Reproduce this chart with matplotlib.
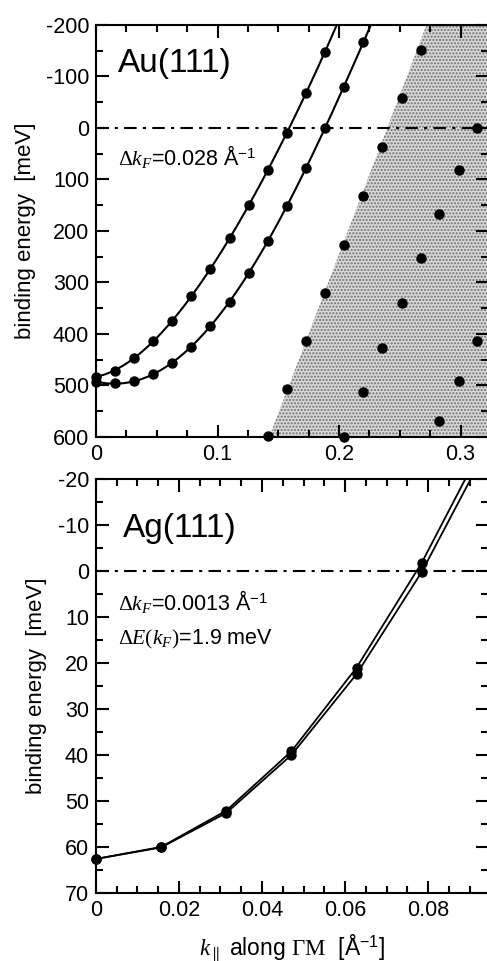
import numpy as np
import matplotlib
matplotlib.use("Agg")
import matplotlib.pyplot as plt
from matplotlib.ticker import MultipleLocator, FormatStrFormatter

plt.rcParams['font.family'] = ['Liberation Sans', 'DejaVu Sans']
plt.rcParams['mathtext.fontset'] = 'custom'
plt.rcParams['mathtext.rm'] = 'Liberation Serif'
plt.rcParams['mathtext.it'] = 'Liberation Serif:italic'
plt.rcParams['mathtext.sf'] = 'Liberation Sans'
plt.rcParams['hatch.color'] = '#6e6e6e'
plt.rcParams['hatch.linewidth'] = 1.0

# Au(111): two spin-split branches, k in 1/A, binding energy in meV
k_au = np.arange(15) * 0.0157
E_au_a = [483, 471, 446, 414, 374, 327, 274, 214, 150, 82, 10, -67, -148]
E_au_b = [493, 496, 491, 478, 456, 425, 385, 337, 282, 219, 152, 78, 1, -80, -166]

# bulk band points in the projected continuum
bulk_k = [0.1413, 0.157, 0.1726, 0.1885, 0.2044, 0.2044, 0.22, 0.22, 0.2357, 0.2357,
          0.2515, 0.2515, 0.2672, 0.2672, 0.2825, 0.2825, 0.2985, 0.2985, 0.3139, 0.3139]
bulk_E = [598, 507, 414, 320, 227, 600, 132, 513, 36, 427,
          -58, 340, -152, 253, 167, 569, 82, 491, 0, 414]

# edge of the shaded bulk continuum
edge_k = [0.272, 0.1426]
edge_E = [-200, 600]

# Ag(111)
k_ag = [0, 0.0157, 0.0314, 0.0471, 0.0628, 0.0785]
E_ag_a = [62.6, 60.0, 52.1, 39.2, 21.0, -1.8]
E_ag_b = [62.6, 60.1, 52.6, 40.0, 22.4, 0.2]
# where the lines leave the top of the frame
end_ag_a = (0.0890, -20)
end_ag_b = (0.0903, -20)

fig = plt.figure(figsize=(4.87, 9.61), dpi=100)
ax1 = fig.add_axes([0.1971, 0.5453, 0.805, 0.4287])
ax2 = fig.add_axes([0.1971, 0.0708, 0.805, 0.4308])

ms = 6.5
lw = 1.5

# --- top panel
xmax1 = 0.3226
ax1.fill_betweenx(edge_E, edge_k, xmax1, facecolor='#d8d8d8', hatch='.....',
                  edgecolor='#6e6e6e', linewidth=0, zorder=0)
kk = np.linspace(0, 0.25, 400)
for E in (E_au_a, E_au_b):
    kx = k_au[:len(E)]
    p = np.polyfit(kx, E, 4)
    ax1.plot(kk, np.polyval(p, kk), color='black', lw=lw, zorder=2)
    ax1.plot(kx, E, 'o', color='black', ms=ms, clip_on=False, zorder=3)
ax1.plot(bulk_k, bulk_E, 'o', color='black', ms=ms, clip_on=False, zorder=3)
ax1.axhline(0, color='black', lw=lw, ls=(0, (6, 3, 1.5, 3)), zorder=1)
ax1.set_xlim(0, xmax1)
ax1.set_ylim(600, -200)
ax1.xaxis.set_major_locator(MultipleLocator(0.1))
ax1.xaxis.set_minor_locator(MultipleLocator(0.025))
ax1.yaxis.set_major_locator(MultipleLocator(100))
ax1.yaxis.set_minor_locator(MultipleLocator(50))
ax1.xaxis.set_major_formatter(FormatStrFormatter('%g'))
ax1.yaxis.set_major_formatter(FormatStrFormatter('%g'))
ax1.set_ylabel('binding energy  [meV]', fontsize=16, labelpad=7)
ax1.text(0.056, 0.886, 'Au(111)', transform=ax1.transAxes, fontsize=24)
ax1.text(0.056, 0.66, r'$\Delta k_F$=0.028 Å$^{\mathsf{-1}}$', transform=ax1.transAxes,
         fontsize=15.5)

# --- bottom panel
ax2.plot(list(k_ag) + [end_ag_a[0]], E_ag_a + [end_ag_a[1]], color='black', lw=1.3, zorder=2)
ax2.plot(list(k_ag) + [end_ag_b[0]], E_ag_b + [end_ag_b[1]], color='black', lw=1.3, zorder=2)
ax2.plot(k_ag, E_ag_a, 'o', color='black', ms=ms, clip_on=False, zorder=3)
ax2.plot(k_ag, E_ag_b, 'o', color='black', ms=ms, clip_on=False, zorder=3)
ax2.axhline(0, color='black', lw=lw, ls=(0, (6, 3, 1.5, 3)), zorder=1)
ax2.set_xlim(0, 0.09446)
ax2.set_ylim(70, -20)
ax2.xaxis.set_major_locator(MultipleLocator(0.02))
ax2.xaxis.set_minor_locator(MultipleLocator(0.005))
ax2.yaxis.set_major_locator(MultipleLocator(10))
ax2.yaxis.set_minor_locator(MultipleLocator(5))
ax2.xaxis.set_major_formatter(FormatStrFormatter('%g'))
ax2.yaxis.set_major_formatter(FormatStrFormatter('%g'))
ax2.set_ylabel('binding energy  [meV]', fontsize=16, labelpad=8)
ax2.set_xlabel(r'$k_{\parallel}$ along $\Gamma\mathrm{M}$  [Å$^{\mathsf{-1}}$]', fontsize=16.5,
               labelpad=8)
ax2.text(0.07, 0.86, 'Ag(111)', transform=ax2.transAxes, fontsize=24)
ax2.text(0.056, 0.684, r'$\Delta k_F$=0.0013 Å$^{\mathsf{-1}}$', transform=ax2.transAxes,
         fontsize=15.5)
ax2.text(0.056, 0.599, r'$\Delta E(k_F)$=1.9 meV', transform=ax2.transAxes, fontsize=15.5)

for ax in (ax1, ax2):
    for s in ax.spines.values():
        s.set_linewidth(1.5)
    ax.tick_params(which='both', direction='in', top=True, right=True, width=1.5,
                   labelsize=15.5, pad=5)
    ax.tick_params(which='major', length=9)
    ax.tick_params(which='minor', length=5)

fig.savefig('out.png', dpi=100)
